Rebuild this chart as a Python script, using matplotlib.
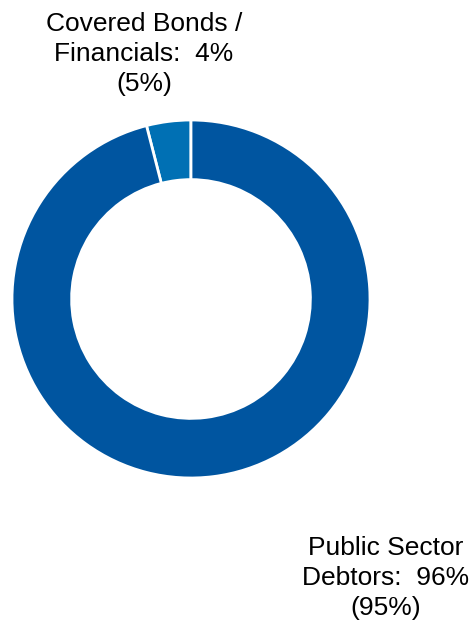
import matplotlib as mpl
mpl.use('Agg')
import matplotlib.pyplot as plt

# portfolio split, current share and (previous share)
labels = ['Covered Bonds /\nFinancials', 'Public Sector\nDebtors']
shares = [4, 96]
shares_prev = [5, 95]
colors = ['#0070B4', '#0055A0']

plt.rc('font', family=['Liberation Sans', 'DejaVu Sans'])

W, H = 472, 620
fig = plt.figure(figsize=(W/100, H/100), dpi=100)

# donut centred at (191, 299) px with outer radius 179 px
cx, cy, r = 191, 299, 179
ax = fig.add_axes([(cx-r)/W, (H-cy-r)/H, 2*r/W, 2*r/H])
ax.pie(shares, colors=colors, startangle=90, counterclock=True,
       radius=1.0,
       wedgeprops=dict(width=0.333, edgecolor='white', linewidth=2))
ax.set_xlim(-1, 1)
ax.set_ylim(-1, 1)
ax.set_aspect('equal')
ax.axis('off')

txt = ['{}:  {}%\n({}%)'.format(l, s, p)
       for l, s, p in zip(labels, shares, shares_prev)]
fig.text(144/W, 1-54/H, txt[0], ha='center', va='center',
         multialignment='center', fontsize=19, linespacing=1.3)
fig.text(386/W, 1-578/H, txt[1], ha='center', va='center',
         multialignment='center', fontsize=19, linespacing=1.3)

fig.savefig('out.png', dpi=100)
plt.close('all')
